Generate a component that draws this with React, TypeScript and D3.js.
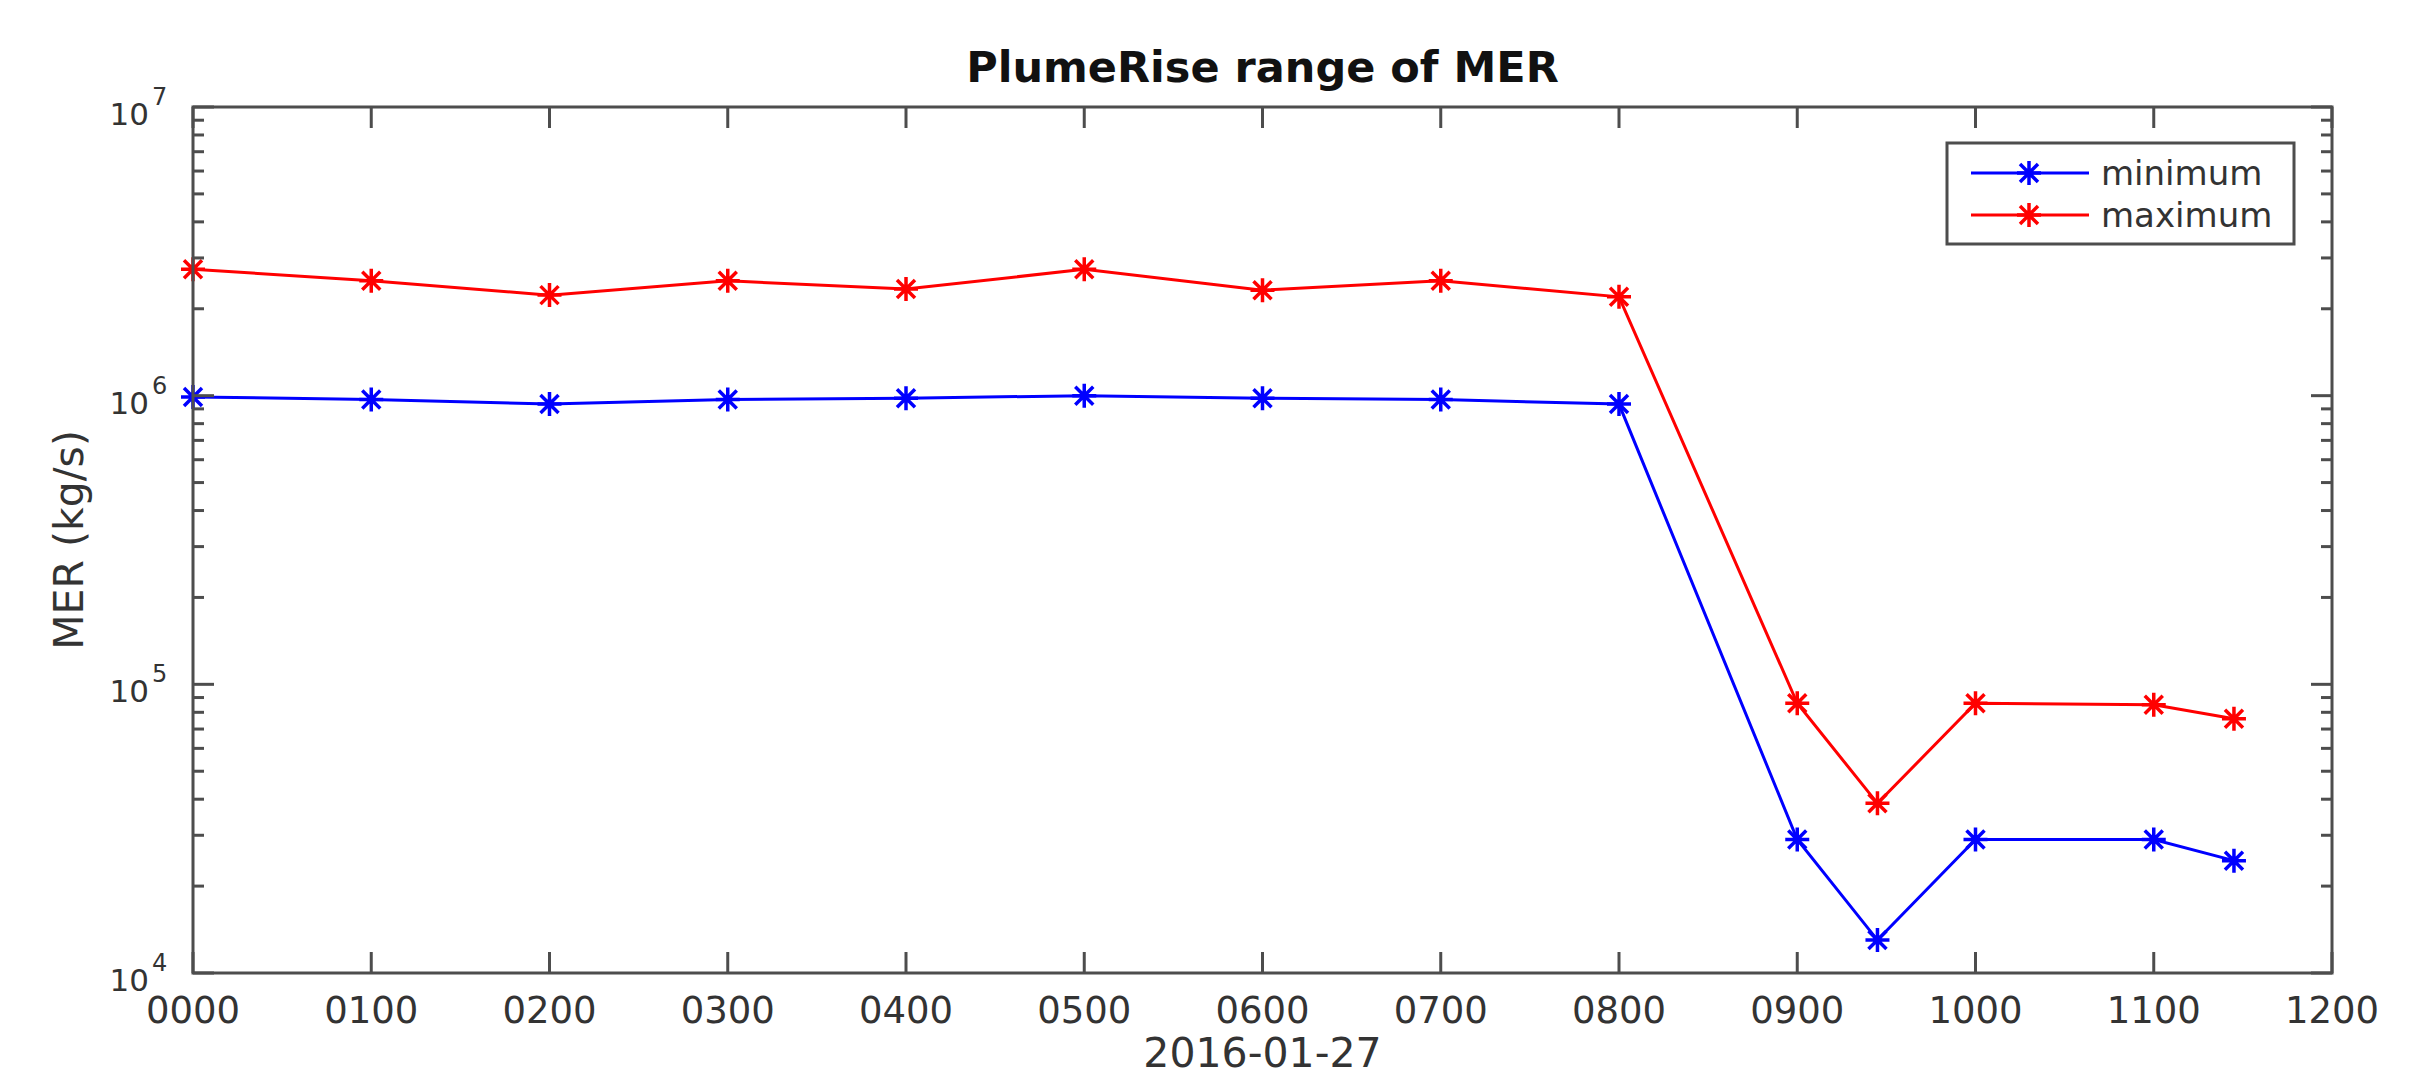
import React, { useEffect } from "react";
import * as d3 from "d3";

const times = [0, 100, 200, 300, 400, 500, 600, 700, 800, 900, 945, 1000, 1100, 1145];
const minimumMER = [9.9e5, 9.7e5, 9.35e5, 9.7e5, 9.8e5, 1.0e6, 9.8e5, 9.7e5, 9.35e5, 2.9e4, 1.3e4, 2.9e4, 2.9e4, 2.45e4];
const maximumMER = [2.74e6, 2.5e6, 2.23e6, 2.5e6, 2.34e6, 2.74e6, 2.32e6, 2.5e6, 2.2e6, 8.6e4, 3.87e4, 8.6e4, 8.5e4, 7.6e4];
const xTickValues = [0, 100, 200, 300, 400, 500, 600, 700, 800, 900, 1000, 1100, 1200];
const yDecades = [4, 5, 6, 7];
const seriesNames = ["minimum", "maximum"];
const seriesColors = ["#0000ff", "#ff0000"];
const titleText = "PlumeRise range of MER";
const xLabelText = "2016-01-27";
const yLabelText = "MER (kg/s)";

const W = 2411;
const H = 1079;
const M = { left: 193, right: 2332, top: 107, bottom: 973 };
const FONT = "DejaVu Sans, sans-serif";
const AXIS = "#4d4d4d";

function Star({ x, y, color }: { x: number; y: number; color: string }) {
  const r = 12;
  const d = r * 0.75;
  const p = `M${x - r},${y}L${x + r},${y}M${x},${y - r}L${x},${y + r}M${x - d},${y - d}L${x + d},${y + d}M${x - d},${y + d}L${x + d},${y - d}`;
  return <path d={p} stroke={color} strokeWidth={3.5} fill="none" />;
}

export default function App() {
  useEffect(() => {
    document.body.style.margin = "0";
  }, []);

  const x = d3.scaleLinear().domain([0, 1200]).range([M.left, M.right]);
  const y = d3.scaleLog().domain([1e4, 1e7]).range([M.bottom, M.top]);
  const line = d3
    .line<number>()
    .x((_, i) => x(times[i]))
    .y((v) => y(v));

  const minorTicks: number[] = [];
  for (let e = 4; e < 7; e++) for (let k = 2; k <= 9; k++) minorTicks.push(k * Math.pow(10, e));

  const series = [minimumMER, maximumMER];
  const fmt = (v: number) => String(v).padStart(4, "0");

  const lg = { x0: 1947, x1: 2294, y0: 143, y1: 244 };
  const rows = [173, 215];

  return (
    <svg width={W} height={H} style={{ position: "absolute", left: 0, top: 0, background: "#fff" }} fontFamily={FONT}>
      <rect x={0} y={0} width={W} height={H} fill="#fff" />
      {/* data */}
      {series.map((s, si) => (
        <g key={si}>
          <path d={line(s) || ""} fill="none" stroke={seriesColors[si]} strokeWidth={3} />
          {s.map((v, i) => (
            <Star key={i} x={x(times[i])} y={y(v)} color={seriesColors[si]} />
          ))}
        </g>
      ))}
      {/* axes box */}
      <rect x={M.left} y={M.top} width={M.right - M.left} height={M.bottom - M.top} fill="none" stroke={AXIS} strokeWidth={3} />
      {/* x ticks */}
      {xTickValues.map((t) => (
        <g key={t}>
          <line x1={x(t)} x2={x(t)} y1={M.bottom} y2={M.bottom - 21} stroke={AXIS} strokeWidth={3} />
          <line x1={x(t)} x2={x(t)} y1={M.top} y2={M.top + 21} stroke={AXIS} strokeWidth={3} />
          <text x={x(t)} y={1023} fontSize={37} textAnchor="middle" fill="#333">
            {fmt(t)}
          </text>
        </g>
      ))}
      {/* y ticks */}
      {yDecades.map((e) => {
        const v = Math.pow(10, e);
        return (
          <g key={e}>
            <line x1={M.left} x2={M.left + 21} y1={y(v)} y2={y(v)} stroke={AXIS} strokeWidth={3} />
            <line x1={M.right} x2={M.right - 21} y1={y(v)} y2={y(v)} stroke={AXIS} strokeWidth={3} />
            <text x={149} y={y(v) + 18} fontSize={31} textAnchor="end" fill="#333">
              10
            </text>
            <text x={152} y={y(v) - 2} fontSize={24} textAnchor="start" fill="#333">
              {e}
            </text>
          </g>
        );
      })}
      {minorTicks.map((v) => (
        <g key={v}>
          <line x1={M.left} x2={M.left + 11} y1={y(v)} y2={y(v)} stroke={AXIS} strokeWidth={3} />
          <line x1={M.right} x2={M.right - 11} y1={y(v)} y2={y(v)} stroke={AXIS} strokeWidth={3} />
        </g>
      ))}
      {/* labels */}
      <text x={(M.left + M.right) / 2} y={82} fontSize={43} fontWeight="bold" textAnchor="middle" fill="#111">
        {titleText}
      </text>
      <text x={(M.left + M.right) / 2} y={1067} fontSize={41} textAnchor="middle" fill="#333">
        {xLabelText}
      </text>
      <text
        transform={`translate(83,${(M.top + M.bottom) / 2}) rotate(-90)`}
        fontSize={41}
        textAnchor="middle"
        fill="#333"
      >
        {yLabelText}
      </text>
      {/* legend */}
      <rect x={lg.x0} y={lg.y0} width={lg.x1 - lg.x0} height={lg.y1 - lg.y0} fill="#fff" stroke={AXIS} strokeWidth={3} />
      {seriesNames.map((n, i) => (
        <g key={n}>
          <line x1={1971} x2={2089} y1={rows[i]} y2={rows[i]} stroke={seriesColors[i]} strokeWidth={3} />
          <Star x={2029} y={rows[i]} color={seriesColors[i]} />
          <text x={2101} y={rows[i] + 12} fontSize={34} fill="#333">
            {n}
          </text>
        </g>
      ))}
    </svg>
  );
}
